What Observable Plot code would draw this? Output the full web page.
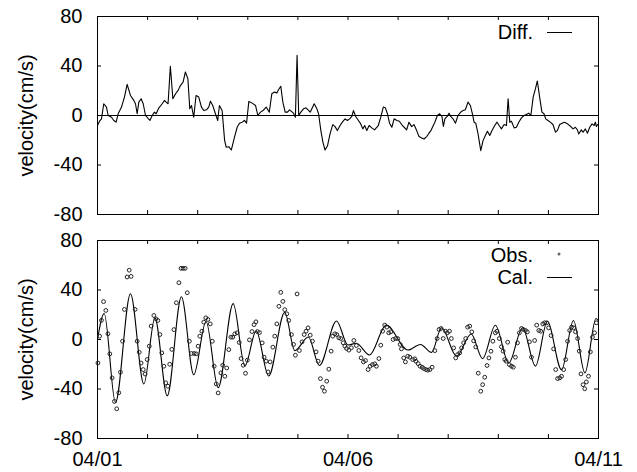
<!DOCTYPE html>
<html><head><meta charset="utf-8">
<script src="https://cdn.jsdelivr.net/npm/d3@7"></script>
<script src="https://cdn.jsdelivr.net/npm/@observablehq/plot@0.6"></script>
<style>
body{margin:0;background:#fff;}
#chart{position:relative;width:637px;height:472px;font-family:"Liberation Sans",Arial,sans-serif;color:#000;}
#chart svg{position:absolute;left:0;overflow:visible;}
</style></head><body><div id="chart"></div>
<script>
// ---- axis / label data ----
const xTickHours = [0, 120, 240];
const xTickLabels = ["04/01", "04/06", "04/11"];
const dayHours = [0, 24, 48, 72, 96, 120, 144, 168, 192, 216, 240];
const yTicks = [-80, -40, 0, 40, 80];
const yLabel = "velocity(cm/s)";
const legendTop = ["Diff."];
const legendBottom = ["Obs.", "Cal."];

// ---- Diff. (hours since 04/01 00:00, cm/s) ----
const diffT = [0,0.96,1.9,3.0,4.3,5.1,6.7,7.8,8.9,9.9,11.5,12.9,14.2,15.8,17.4,18.2,19.0,19.8,20.9,21.9,23.0,25.1,26.2,27.3,28.1,29.4,31.0,32.1,32.9,33.8,34.9,36.1,37.4,38.6,39.8,41.0,42.1,43.3,44.2,45.0,46.1,47.2,48.5,49.8,50.9,52.2,53.3,54.1,55.2,56.5,57.6,58.4,59.7,60.9,61.7,62.9,64.1,65.6,66.9,68.0,69.3,70.4,71.4,72.5,74.1,75.7,76.8,78.1,79.3,80.8,82.3,83.5,84.8,85.9,86.7,87.8,88.8,89.9,91.0,92.0,93.9,94.8,95.6,96.4,97.4,98.7,99.9,101.9,103.8,105.1,105.9,107.0,108.0,109.0,110.2,111.4,112.7,113.8,114.9,116.2,117.3,118.6,119.7,120.8,121.8,122.6,123.7,125.0,126.1,127.1,128.0,129.0,130.1,131.4,132.7,134.5,135.7,136.9,137.9,138.9,139.9,141.0,142.1,143.4,144.6,145.7,146.9,148.1,149.2,150.5,151.6,152.9,154.0,155.3,156.4,157.7,158.8,159.8,161.6,162.8,163.9,165.0,165.7,166.4,167.5,168.4,169.2,170.3,171.5,172.7,174.0,175.1,176.2,177.5,178.6,179.6,180.4,181.2,182.3,183.6,184.7,185.8,186.8,187.9,189.0,190.3,191.4,192.4,193.5,194.8,195.9,196.7,197.5,198.3,199.6,200.7,201.8,203.1,204.3,205.4,206.6,207.6,208.7,209.8,210.7,211.8,212.9,213.9,214.7,215.8,216.9,218.2,219.4,220.3,221.4,222.6,223.6,224.7,226.7,227.8,228.9,229.9,230.5,231.8,232.6,233.7,234.7,235.8,236.9,237.9,238.5,239.0,239.6];
const diffV = [-8,-4.6,-2.7,9.5,6.8,0,-1.4,-4,-5.4,1.4,6.8,14.9,25.2,16.2,12.2,9.5,1.4,10.8,13.5,9.5,0,-4,0,2.7,1.4,6.2,9.5,12.2,10.8,9.5,39.8,13.5,17.6,20.3,24.4,27,35.2,29.8,5.4,8.1,-1.4,16.2,14.9,6.8,4,4.6,6.8,11.6,8.1,1.4,-4,8.1,4,-20.3,-25.7,-25.2,-27.9,-17.6,-9.5,-6.2,-5.4,-4,-6.2,11.4,10,8.1,0,2.7,4,6.8,2.7,17.6,19,18.1,20.8,23.6,10.8,2.7,2.7,4.6,1.9,-1.4,48.7,0,2.7,5.4,6.2,2.7,9.5,5.4,1.4,-12.2,-21.7,-27.9,-24.4,-14.9,-7.3,-9,-12.2,-8.1,-5.4,-2.7,-4,-2.7,-0.8,4,-0.8,-4,-6.8,-10.8,-8.1,-12.2,-8.1,-10,-11.6,-8.1,-1.4,6.8,6.2,1.4,-6.2,-9.5,-2.7,-4,-4.6,-7.3,-9.5,-11.6,-5.4,-9,-7.3,-12.2,-17,-18.1,-19,-17,-14.3,-12,-5.4,0,1.4,-0.8,-8.9,-2.7,-0.8,1.9,-0.8,-2.7,-6.2,0,2.7,4,4.6,10.8,8.1,1.4,-5.4,-6.2,-14.9,-28.4,-20.3,-16.2,-12.7,-16.2,-12.2,-8.1,-5.4,-8.1,-10.8,-7.3,-8.1,13.5,-5.4,-4.6,-10,-9.5,-5.4,-1.9,0,0.8,1.9,0,14.9,21.7,27.9,14.9,2.7,1.4,-2.7,-4,-5.4,-7.3,-13.5,-12.2,-7.3,-6.2,-5.4,-6.2,-8.9,-10.8,-9.5,-11.6,-14.9,-11.6,-13.5,-10.8,-14.3,-9.5,-6.8,-8.1,-5.4,-8.9,-7.3];

// ---- Cal. (turning points of the calculated curve) ----
const calT = [0,3.2,8.6,15.8,22.2,27.5,33.4,40.2,46.1,52,57.8,65,70.6,76,82,89.7,94.5,101,106.3,114.5,120,124,130.3,138.3,148.7,154.7,160,164.8,172,179,184.5,190.6,197,203.6,209.8,215.5,222.3,228,233.5,238.8,240];
const calV = [0,21,-51,37,-36,17.5,-45.5,34.5,-28.5,14.5,-39,29,-21.5,7,-29.5,22,-9,2,-21,15,-4.5,-3,-12.5,11.6,-8.5,-4,-10.5,9.5,-13.5,4.5,-15.5,11.5,-19,9.5,-21.5,14.5,-24.5,15.4,-27,17,15];

// ---- Obs. ----
const obsT = [0.2,1.0,1.9,2.9,4.0,5.0,5.9,7.0,8.1,9.2,10.2,11.0,12.0,12.9,14.2,15.2,16.1,18.0,19.0,20.0,20.9,21.9,22.8,23.8,24.8,25.7,27.0,28.0,28.9,29.9,30.8,31.8,32.7,33.7,34.6,35.6,36.6,37.8,39,40,41,42,43,44.0,45.0,46.3,47.3,48.2,49.0,50.0,50.9,51.9,52.9,54.0,55.0,55.9,56.9,57.8,59.1,60.0,61.0,61.9,62.9,63.9,64.8,65.8,66.9,67.9,68.8,69.8,70.9,71.8,72.8,74.0,75.0,75.9,76.6,77.6,78.9,79.8,80.8,81.7,82.7,84.0,84.9,85.9,86.9,87.8,88.8,89.7,90.7,91.6,92.9,93.9,94.8,95.6,96.7,98.0,99.0,99.9,100.9,101.9,103.0,104.7,105.7,106.8,107.8,108.7,109.8,110.8,111.9,112.7,113.7,114.6,115.6,116.5,117.7,118.5,119.3,120.4,121.6,122.8,124.0,125.2,126.3,127.4,128.4,129.6,130.6,131.7,132.8,133.6,134.8,135.7,136.6,137.6,138.6,139.5,140.5,141.6,142.8,143.8,145.0,145.6,146.7,147.5,148.6,149.6,151.0,152.0,152.6,153.6,154.5,155.5,156.3,157.3,158.2,159.2,160.3,161.6,162.7,163.6,164.6,165.6,166.7,167.6,168.6,169.5,170.6,171.6,172.5,173.5,174.4,175.4,176.4,177.3,178.3,179.3,180.2,181.2,182.4,183.6,184.5,185.5,186.6,187.5,188.5,189.4,190.6,191.4,192.5,193.5,194.3,195.1,195.8,196.5,197.3,198.3,199.2,200.2,201.2,202.1,203.1,204.0,205.0,205.9,206.9,207.9,209.4,210.4,211.4,212.3,213.3,214.2,215.2,216.1,217.3,218.5,219.5,220.4,221.4,222.3,223.3,224.3,225.2,226.2,227.1,228.1,229.0,230.0,230.8,231.6,232.6,233.4,234.2,235.2,236.1,237.1,238.1,239.0];
const obsV = [-19,2.7,15.5,30.6,23.5,4.6,-11.6,-31,-50,-56,-43,-26.5,-1.4,24.3,50.5,56,51,24.3,-1.4,-10.3,-19,-24.3,-27.9,-16.2,-5.4,10.8,19.4,16.7,15.4,4,-10.8,-21.6,-35,-37.8,-20,-8,8,29.7,45.9,57.5,57.5,57.5,37.8,-1.4,-11.3,-11.3,-11.6,-5.4,2.7,6.7,14,17.5,16.2,12.6,-1.4,-21.6,-35.9,-43.2,-27,-20.8,-29.7,-23,-8.2,1.9,1.9,4.6,5.4,-2.4,-15.4,-20.8,-27.3,-16.7,-0.3,6.4,12,14.3,6.4,5.6,-2.7,-14.3,-17.5,-26.2,-18.1,-6.2,2.7,12.6,26.8,38.1,30.8,24.1,20.8,15.4,4,-4,-12.7,36.8,-8.9,-1.9,4,6.7,9.4,3.5,-1.4,-10,-17.5,-31.6,-38.6,-41.8,-33.7,-24,-9.4,2.7,4.6,4,1.4,0.8,-2.7,-5.4,-7.3,-8.6,-6.7,-0.8,-4.9,-8.9,-14.8,-18.1,-17,-24.3,-21.6,-20.3,-19.7,-21.6,-15.4,-4.6,6.7,11.6,10,5.4,6.2,0,0.8,0.8,-4,-7.6,-14.9,-18.1,-13.5,-14.3,-16.2,-15.6,-17.6,-19.5,-21.6,-22.4,-23.5,-24.3,-24.8,-24.3,-22.4,-9,0.8,8.1,8.9,0.8,6.7,5.4,6.7,0.8,-6.8,-14.9,-12.2,-10.8,-6.8,-2.7,0.8,10,10.8,6.2,-1.1,-6,-27.2,-41.8,-36.5,-30.5,-21,-14.9,-9.5,-1.4,5.4,6.7,0.8,-5.9,-9.4,-16.2,-17.6,-2.2,-20.3,-21.6,-22.4,-14.3,-2.7,5.4,8.9,8.1,7.3,6.2,-1.9,-14.3,-0.8,11.6,7.3,6.7,12.6,13.5,13.5,9.4,3.2,-7.6,-24.3,-31.6,-31,-29.7,-24.3,-16.2,-1.4,7.3,10,9.4,6.2,0.8,-9.4,-27.8,-36.5,-39.8,-34.3,-29.7,-10,1.9,5.4,13.5];

const diff = diffT.map((t, i) => ({t, v: diffV[i]}));
const cal = calT.map((t, i) => ({t, v: calV[i]}));
const obs = obsT.map((t, i) => ({t, v: obsV[i]}));

const W = 637, ML = 97, MR = 39, FH = 198, FW = W - ML - MR, TK = 4;
const font = "Liberation Sans, Arial, sans-serif";
const style = {fontFamily: font, fontSize: "20px", color: "#000", background: "transparent", overflow: "visible"};

function frameMarks() {
  return [
    Plot.frame({stroke: "#000"}),
    Plot.ruleX(dayHours, {x: d => d, insetTop: FH - TK, stroke: "#000"}),
    Plot.ruleX(dayHours, {x: d => d, insetBottom: FH - TK, stroke: "#000"}),
    Plot.ruleY(yTicks, {y: d => d, insetRight: FW - TK, stroke: "#000"}),
    Plot.ruleY(yTicks, {y: d => d, insetLeft: FW - TK, stroke: "#000"}),
    Plot.axisY(yTicks, {tickSize: 0, tickPadding: 15, fontSize: 20, tickFormat: d => String(d), label: null}),
    Plot.text([yLabel], {frameAnchor: "left", rotate: -90, textAnchor: "middle", lineAnchor: "middle", dx: -71, fontSize: 20, fill: "#000"})
  ];
}

const topPlot = Plot.plot({
  width: W, height: 226, marginLeft: ML, marginRight: MR, marginTop: 16, marginBottom: 12,
  style,
  x: {domain: [0, 240], axis: null},
  y: {domain: [-80, 80], axis: null},
  marks: [
    ...frameMarks(),
    Plot.ruleY([0], {stroke: "#000"}),
    Plot.line(diff, {x: "t", y: "v", stroke: "#000", strokeWidth: 1.1})
  ]
});

const bottomPlot = Plot.plot({
  width: W, height: 252, marginLeft: ML, marginRight: MR, marginTop: 20, marginBottom: 34,
  style,
  x: {domain: [0, 240], axis: null},
  y: {domain: [-80, 80], axis: null},
  marks: [
    ...frameMarks(),
    Plot.axisX(xTickHours, {tickSize: 0, tickPadding: 13, fontSize: 20, tickFormat: d => xTickLabels[xTickHours.indexOf(d)], label: null}),
    Plot.line(cal, {x: "t", y: "v", curve: "monotone-x", stroke: "#000", strokeWidth: 1.1}),
    Plot.dot(obs, {x: "t", y: "v", r: 1.9, stroke: "#222", strokeWidth: 1, fill: "none"})
  ]
});

const chart = document.getElementById("chart");
topPlot.style.top = "0px";
bottomPlot.style.top = "220px";
chart.appendChild(topPlot);
chart.appendChild(bottomPlot);

// legends (inside the frames, top right)
function addLegend(svg, labels, kinds, y0) {
  const g = d3.select(svg).append("g").attr("font-family", font).attr("font-size", 20);
  labels.forEach((lab, i) => {
    const y = y0 + i * 22;
    g.append("text").attr("x", 533).attr("y", y).attr("dy", "0.35em").attr("text-anchor", "end").attr("fill", "#000").text(lab);
    if (kinds[i] === "line") {
      g.append("line").attr("x1", 547).attr("x2", 572).attr("y1", y + 0.5).attr("y2", y + 0.5).attr("stroke", "#000");
    } else {
      g.append("circle").attr("cx", 559).attr("cy", y - 1).attr("r", 1.5).attr("fill", "#666");
    }
  });
}
addLegend(topPlot, legendTop, ["line"], 32);
addLegend(bottomPlot, legendBottom, ["dot", "line"], 35);
</script></body></html>
